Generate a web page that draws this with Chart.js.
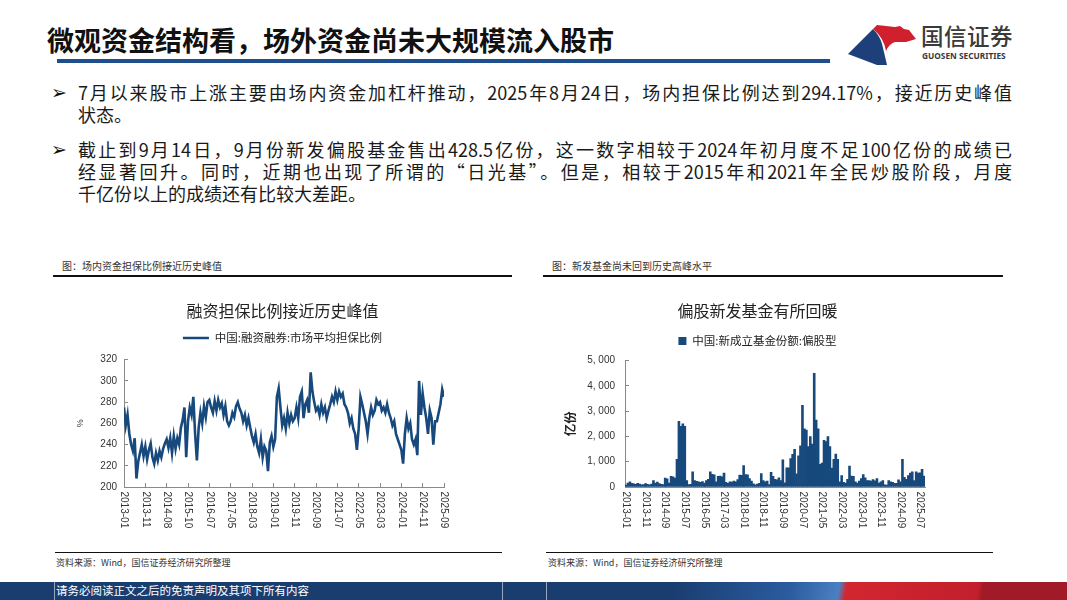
<!DOCTYPE html>
<html>
<head>
<meta charset="utf-8">
<script src="https://cdn.jsdelivr.net/npm/chart.js@4.4.1/dist/chart.umd.min.js"></script>
<style>
  body { margin: 0; width: 1067px; height: 600px; overflow: hidden; background: #fff; position: relative;
         font-family: "Noto Sans CJK SC", "Noto Sans", sans-serif; color: #1a1a1a; }
  .abs { position: absolute; }
  .title { left: 47px; top: 24px; font-size: 27px; font-weight: 700; line-height: 32px; color: #111; white-space: nowrap; }
  .title-rule { left: 57px; top: 59px; width: 773px; height: 4px; background: #1f4e8c; }
  .logo-cn { left: 921px; top: 22px; font-size: 22.5px; line-height: 27px; color: #3a3a3a; font-weight: 500; letter-spacing: 0.5px; }
  .logo-en { left: 922px; top: 51px; font-family: "Noto Sans", sans-serif; font-size: 8.3px; font-weight: 700; color: #3a3a3a; line-height: 10px; white-space: nowrap; }
  .arrow { font-family: "DejaVu Sans", sans-serif; font-size: 19px; font-weight: bold; line-height: 22px; left: 51px; color: #111; }
  .ln { left: 78px; width: 934px; font-size: 18px; line-height: 22px; white-space: nowrap; }
  .ln.j { text-align: justify; text-align-last: justify; }
  .cap { font-size: 10px; line-height: 12px; color: #333; }
  .rule { height: 1.5px; background: #111; }
  .src { font-size: 9px; line-height: 11px; color: #333; }
  .band { left: 0; top: 582px; width: 1067px; height: 18px;
          background: linear-gradient(100deg, #1a3d70 0%, #1a3d70 63%, #2b5c9f 74%, #4a80c2 78.5%, #d22630 79.2%, #c21f2c 91.5%, #a01a27 92%, #a01a27 100%); }
  .band-txt { left: 56px; top: 582px; font-size: 11.5px; line-height: 17px; color: #fff; }
  .sep { top: 582px; width: 1px; height: 18px; background: rgba(255,255,255,0.55); }
  .box { position: absolute; }
</style>
</head>
<body>
<div class="abs title">微观资金结构看，场外资金尚未大规模流入股市</div>
<div class="abs title-rule"></div>

<svg class="abs" style="left:0;top:0" width="1067" height="75">
  <path d="M848,54 L873,29 Q880,36 882,44 Q884,52 887,65 L877,65 Z" fill="#1d3f7a"/>
  <path d="M873,29 L877,25 L895,27 L900,26 L904,29 L909,30 L916,39 L906,42 L895,42 Q889,44 886,51 Q884,38 873,29 Z" fill="#d0202e"/>
</svg>
<div class="abs logo-cn">国信证券</div>
<div class="abs logo-en">GUOSEN SECURITIES</div>

<div class="abs arrow" style="top:81px">➢</div>
<div class="abs ln j" style="top:81px">7月以来股市上涨主要由场内资金加杠杆推动，2025年8月24日，场内担保比例达到294.17%，接近历史峰值</div>
<div class="abs ln" style="top:103px">状态。</div>

<div class="abs arrow" style="top:138px">➢</div>
<div class="abs ln j" style="top:138px">截止到9月14日，9月份新发偏股基金售出428.5亿份，这一数字相较于2024年初月度不足100亿份的成绩已</div>
<div class="abs ln j" style="top:160px">经显著回升。同时，近期也出现了所谓的“日光基”。但是，相较于2015年和2021年全民炒股阶段，月度</div>
<div class="abs ln" style="top:182px">千亿份以上的成绩还有比较大差距。</div>

<div class="abs cap" style="left:62px;top:260px">图：场内资金担保比例接近历史峰值</div>
<div class="abs rule" style="left:53px;top:275px;width:459px"></div>
<div class="abs cap" style="left:552px;top:260px">图：新发基金尚未回到历史高峰水平</div>
<div class="abs rule" style="left:543px;top:275px;width:460px"></div>

<div class="box" style="left:55px;top:288px;width:455px;height:257px"><canvas id="ratioChart"></canvas></div>
<div class="box" style="left:540px;top:288px;width:435px;height:257px"><canvas id="fundChart"></canvas></div>

<div class="abs rule" style="left:55px;top:552px;width:447px;height:1.2px"></div>
<div class="abs src" style="left:56px;top:557px">资料来源：Wind，国信证券经济研究所整理</div>
<div class="abs rule" style="left:546px;top:552px;width:447px;height:1.2px"></div>
<div class="abs src" style="left:548px;top:557px">资料来源：Wind，国信证券经济研究所整理</div>

<div class="abs band"></div>
<div class="abs sep" style="left:54px"></div>
<div class="abs sep" style="left:502px"></div>
<div class="abs sep" style="left:546px"></div>
<div class="abs band-txt">请务必阅读正文之后的免责声明及其项下所有内容</div>

<script>
  // 融资融券市场平均担保比例(%)，每个刻度区间取12个读数
  const ratioTickLabels = ['2013-01','2013-11','2014-08','2015-10','2016-07','2017-05','2018-03','2019-01',
    '2019-11','2020-09','2021-07','2022-05','2023-03','2024-01','2024-11','2025-09'];
  const ratioValues = [
    275, 258, 268, 250, 240, 234, 246, 208, 224, 232, 240, 229,
    238, 226, 235, 241, 228, 222, 232, 225, 234, 228, 236, 241,
    245, 237, 246, 232, 248, 236, 246, 240, 256, 263, 275, 228,
    262, 275, 268, 285, 250, 225, 256, 270, 260, 276, 266, 280,
    282, 275, 270, 281, 272, 282, 275, 279, 268, 276, 262, 258,
    262, 270, 266, 276, 280, 274, 270, 262, 268, 258, 265, 256,
    248, 242, 250, 238, 232, 245, 228, 238, 234, 215, 242, 248,
    238, 245, 285, 293, 275, 258, 265, 255, 270, 260, 268, 262,
    265, 275, 265, 285, 290, 265, 278, 282, 270, 308, 290, 280,
    272, 275, 268, 278, 270, 275, 265, 272, 278, 285, 280, 290,
    282, 290, 285, 288, 278, 275, 270, 260, 265, 255, 250, 235,
    255, 285, 278, 270, 262, 250, 265, 275, 268, 272, 282, 278,
    280, 272, 275, 270, 278, 270, 265, 258, 262, 250, 245, 240,
    235, 222, 250, 265, 255, 260, 245, 240, 245, 230, 300, 268,
    288, 275, 265, 250, 272, 265, 240, 262, 262, 270, 278, 292, 285
  ];
  const ratioStep = 12;

  // 新成立基金份额:偏股型(亿份)，2013-01起按月
  const fundValues = [
    80, 160, 200, 150, 130, 110, 150, 120, 90, 100, 140, 110,
    90, 120, 250, 160, 190, 140, 110, 100, 350, 320, 160, 420,
    400, 350, 1100, 2600, 2400, 2500, 2400, 250, 100, 110, 600, 250,
    220, 200, 180, 210, 160, 250, 300, 600, 500, 480, 200, 420,
    430, 400, 550, 180, 150, 200, 190, 230, 200, 290, 470, 460,
    850, 490, 480, 330, 230, 130, 90, 120, 150, 530, 250, 200,
    230, 100, 580, 420, 300, 280, 360, 250, 1080, 170, 760, 760,
    1130, 1290, 1490, 520, 1230, 1630, 3230, 2300, 2250, 1600, 2000, 1700,
    4500, 2650, 2300, 900, 950, 1850, 1800, 2000, 1600, 750, 1100, 1300,
    1100, 200, 450, 180, 160, 300, 830, 430, 420, 200, 160, 230,
    330, 490, 360, 250, 250, 230, 290, 240, 330, 160, 200, 250,
    90, 80, 250, 200, 180, 150, 150, 280, 200, 1100, 380, 300,
    450, 550, 600, 250, 600, 550, 560, 700, 430
  ];
  const fundLabels = fundValues.map((_, i) =>
    (2013 + Math.floor(i / 12)) + '-' + String(i % 12 + 1).padStart(2, '0'));
  const fundTickEvery = 10;

  const BLUE = '#17497c';
  const AXIS = '#8a8a8a';
  const CJK = '"Noto Sans CJK SC", sans-serif';
  const NUM = '"Liberation Sans", Arial, sans-serif';

  // x轴标签竖排，自上而下
  const verticalTicks = {
    id: 'verticalTicks',
    afterDraw(chart) {
      const s = chart.scales.x, ctx = chart.ctx;
      ctx.save();
      ctx.fillStyle = '#333';
      ctx.font = '10px ' + NUM;
      ctx.textAlign = 'left';
      ctx.textBaseline = 'middle';
      s.ticks.forEach((t, i) => {
        const x = s.getPixelForTick(i);
        ctx.save();
        ctx.translate(x, s.top + 4.5);
        ctx.rotate(Math.PI / 2);
        ctx.fillText(t.label, 0, 0);
        ctx.restore();
      });
      ctx.restore();
    }
  };

  // 图例下方多留一点空
  function legendGap(extra) {
    return {
      id: 'legendGap',
      beforeInit(chart) {
        const fit = chart.legend.fit;
        chart.legend.fit = function () { fit.call(this); this.height += extra; };
      }
    };
  }

  function axisGrid() {
    return { drawOnChartArea: false, drawTicks: true, tickLength: -4, color: AXIS, lineWidth: 1 };
  }

  // 右侧留白用的空轴，保证标题和图例居中
  function spacerAxis(w) {
    return { position: 'right', display: true, grid: { display: false }, border: { display: false },
             ticks: { display: false }, afterFit: s => { s.width = w; } };
  }

  function initRatioChart() {
    const ctx = document.getElementById('ratioChart').getContext('2d');
    new Chart(ctx, {
      type: 'line',
      data: {
        datasets: [{
          label: '中国:融资融券:市场平均担保比例',
          data: ratioValues.map((v, i) => ({ x: i, y: v })),
          borderColor: BLUE, backgroundColor: BLUE, borderWidth: 2.6,
          pointRadius: 0, tension: 0
        }]
      },
      options: {
        animation: false, responsive: true, maintainAspectRatio: false,
        layout: { padding: 0 },
        plugins: {
          title: { display: true, text: '融资担保比例接近历史峰值', color: '#222',
                   font: { size: 16, family: CJK, weight: 'normal' }, padding: { top: 13, bottom: 2 } },
          legend: { labels: { usePointStyle: true, pointStyle: 'line', pointStyleWidth: 26, color: '#222',
                              font: { size: 11.5, family: CJK }, padding: 10 } },
          tooltip: { enabled: false }
        },
        scales: {
          x: {
            type: 'linear', min: 0, max: ratioValues.length - 1,
            afterBuildTicks: s => { s.ticks = ratioTickLabels.map((_, k) => ({ value: k * ratioStep })); },
            ticks: { display: false, callback: v => ratioTickLabels[v / ratioStep] },
            grid: axisGrid(), border: { color: AXIS },
            afterFit: s => { s.height = 58; }
          },
          y: {
            min: 200, max: 320,
            ticks: { stepSize: 20, padding: 11, color: '#333', font: { size: 10, family: NUM } },
            title: { display: true, text: '%', color: '#333', font: { size: 9, family: NUM }, padding: { top: 20, bottom: 0 } },
            grid: axisGrid(), border: { color: AXIS },
            afterFit: s => { s.width = 69; }
          },
          yR: spacerAxis(66)
        }
      },
      plugins: [verticalTicks, legendGap(6)]
    });
  }

  function initFundChart() {
    const ctx = document.getElementById('fundChart').getContext('2d');
    new Chart(ctx, {
      type: 'bar',
      data: {
        labels: fundLabels,
        datasets: [{
          label: '中国:新成立基金份额:偏股型',
          data: fundValues, backgroundColor: BLUE, borderWidth: 0,
          barPercentage: 1, categoryPercentage: 1
        }]
      },
      options: {
        animation: false, responsive: true, maintainAspectRatio: false,
        layout: { padding: 0 },
        plugins: {
          title: { display: true, text: '偏股新发基金有所回暖', color: '#222',
                   font: { size: 16, family: CJK, weight: 'normal' }, padding: { top: 13, bottom: 5 } },
          legend: { labels: { boxWidth: 8, boxHeight: 8, color: '#222',
                              font: { size: 11.5, family: CJK }, padding: 10 } },
          tooltip: { enabled: false }
        },
        scales: {
          x: {
            afterBuildTicks: s => { s.ticks = s.ticks.filter((t, i) => i % fundTickEvery === 0); },
            ticks: { display: false, autoSkip: false },
            grid: Object.assign(axisGrid(), { offset: false }), border: { color: AXIS },
            afterFit: s => { s.height = 58; }
          },
          y: {
            min: 0, max: 5000,
            ticks: { stepSize: 1000, padding: 14, color: '#333', font: { size: 10, family: NUM },
                     callback: v => v.toLocaleString('en-US').replace(',', ', ') },
            title: { display: true, text: '亿份', color: '#222', font: { size: 12.5, family: CJK, weight: 'bold' },
                     padding: { top: 23, bottom: 0 } },
            grid: axisGrid(), border: { color: AXIS },
            afterFit: s => { s.width = 85; }
          },
          yR: spacerAxis(50)
        }
      },
      plugins: [verticalTicks, legendGap(4)]
    });
  }

  document.addEventListener('DOMContentLoaded', () => {
    initRatioChart();
    initFundChart();
  });
</script>
</body>
</html>
